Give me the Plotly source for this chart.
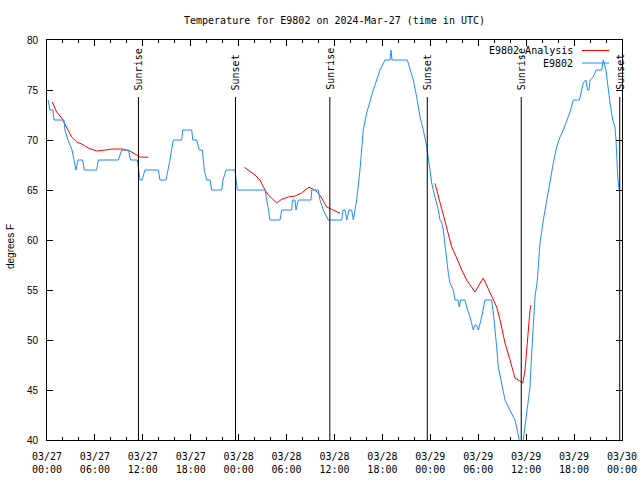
import pandas as pd
import plotly.graph_objects as go

# ---- data ----
base = pd.Timestamp("2024-03-27 00:00")

obs_hours = [0.13, 0.38, 0.75, 0.88, 2.13, 2.25, 2.63, 3.13, 3.38, 3.63, 3.88, 4.47, 4.67, 6.22, 6.42,
             8.93, 9.35, 10.18, 10.48, 11.31, 11.48, 11.65, 11.9, 12.27, 13.94, 14.15, 14.9, 15.19,
             15.4, 15.59, 15.82, 16.87, 17.0, 18.12, 18.25, 18.75, 19.07, 19.45, 19.7, 20.0, 20.41,
             20.62, 21.88, 22.04, 22.41, 23.54, 23.67, 23.83, 27.3, 27.55, 27.74, 27.92, 29.18, 29.39,
             30.64, 30.74, 31.05, 31.18, 31.47, 33.06, 33.15, 33.97, 34.18, 34.6, 35.22, 36.9, 37.06,
             37.32, 37.53, 37.82, 38.15, 38.36, 38.78, 39.19, 39.6, 40.03, 40.45, 40.86, 41.28, 41.7,
             42.32, 42.95, 43.07, 43.2, 45.12, 45.45, 45.87, 46.29, 46.71, 47.12, 47.55, 47.96, 48.17,
             48.58, 49.0, 49.21, 49.42, 49.62, 49.84, 50.05, 50.25, 50.46, 50.88, 51.09, 51.46, 51.63,
             51.78, 52.34, 52.55, 52.97, 53.38, 53.59, 53.78, 54.01, 54.43, 54.84, 55.68, 55.89, 56.1,
             56.31, 56.51, 56.94, 57.35, 57.76, 58.19, 58.6, 58.89, 59.14, 59.35, 59.64, 60.07, 60.48,
             60.69, 60.9, 61.11, 61.4, 61.73, 62.15, 62.57, 62.98, 63.4, 63.82, 64.24, 64.65, 65.08,
             65.49, 65.9, 66.66, 66.95, 67.15, 67.49, 67.68, 67.87, 67.99, 68.41, 68.75, 69.46, 69.66,
             69.99, 70.29, 70.5, 70.84, 71.12, 71.25, 71.34, 71.46, 71.66]
obs_temps = [74, 73, 73, 72, 72, 71, 70, 69, 68, 67, 68, 68, 67, 67, 68,
             68, 69, 69, 68, 68, 67, 66, 66, 67, 67, 66, 66, 67,
             68, 69, 70, 70, 71, 71, 70, 70, 69, 69, 67, 66, 66,
             65, 65, 66, 67, 67, 66, 65, 65, 64, 63, 62, 62, 63,
             63, 64, 64, 63, 64, 64, 65, 65, 64, 63, 62, 62, 63,
             63, 62, 63, 63, 62, 64, 67, 71, 72.7, 74, 75, 76, 77,
             78, 78, 79, 78, 78, 77, 76, 74.3, 72.3, 71, 69.3, 67, 65.7,
             64.3, 63, 62, 61.8, 61, 59.5, 57.7, 56.7, 55.7, 55, 54, 54, 53.3,
             54, 54, 53.3, 52.3, 51, 51.5, 51.5, 51, 52.3, 54, 54, 52.7, 51.3,
             49.3, 47.3, 45.7, 44, 43.3, 42.7, 42, 41, 40, 39, 40, 42.7, 45.3,
             48.7, 52, 54.3, 56, 59.7, 62, 64, 65.7, 67.7, 69.3, 70.3, 71, 72,
             72.8, 74, 74, 75, 75.7, 76, 75, 75, 76, 76.3, 77, 77, 78,
             77, 75, 73.7, 72, 71.3, 70, 68.3, 66.3, 65]

ana_hours = [0.66, 1.21, 1.84, 2.47, 3.09, 3.72, 4.35, 5.17, 6.22, 7.26, 8.3, 9.35, 10.39, 11.23, 11.65, 12.68,
             None,
             24.71, 25.42, 26.05, 26.67, 27.09, 27.71, 28.34, 28.76, 29.39, 30.22, 31.05, 31.89, 32.31,
             32.81, 33.35, 33.85, 34.4, 35.02, 35.65, 36.28, 36.69,
             None,
             48.58, 49.21, 49.84, 50.68, 51.31, 51.93, 52.55, 53.59, 54.63, 55.47, 56.31, 56.73, 57.35,
             57.98, 58.6, 59.02, 59.57, 59.86, 60.07, 60.27, 60.48, 60.61]
ana_temps = [73.8, 72.8, 72.2, 71.2, 70.3, 69.8, 69.6, 69.2, 68.9, 69.0, 69.1, 69.1, 68.9, 68.5, 68.3, 68.27,
             None,
             67.27, 66.9, 66.5, 66.0, 65.3, 64.5, 64.0, 63.7, 64.07, 64.3, 64.4, 64.7, 65.0,
             65.27, 65.07, 64.8, 64.2, 63.3, 63.07, 62.8, 62.67,
             None,
             65.67, 63.7, 61.7, 59.3, 58.2, 57.0, 56.0, 54.8, 56.2, 54.7, 53.3, 52.0, 49.7,
             48.0, 46.2, 46.0, 45.7, 47.0, 49.3, 51.0, 53.0, 53.5]

sun_times = ["2024-03-27 11:27", "2024-03-27 23:36", "2024-03-28 11:25",
             "2024-03-28 23:37", "2024-03-29 11:23", "2024-03-29 23:43"]
sun_labels = ["Sunrise", "Sunset", "Sunrise", "Sunset", "Sunrise", "Sunset"]

title_text = "Temperature for E9802 on 2024-Mar-27 (time in UTC)"
ana_name = "E9802_Analysis"
obs_name = "E9802"

# ---- build ----
def to_time(hs):
    return [None if h is None else base + pd.Timedelta(hours=h) for h in hs]

RED = "#ff0000"
BLUE = "#1e8cff"
MONO = "DejaVu Sans Mono"
SANS = "Liberation Sans"

FIG_W, FIG_H = 640, 480

fig = go.Figure()
fig.add_trace(go.Scatter(x=to_time(ana_hours), y=ana_temps, mode="lines", name=ana_name,
                         line=dict(color=RED, width=1), connectgaps=False))
fig.add_trace(go.Scatter(x=to_time(obs_hours), y=obs_temps, mode="lines", name=obs_name,
                         line=dict(color=BLUE, width=1)))

shapes = []
annotations = []
for t, lab in zip(sun_times, sun_labels):
    shapes.append(dict(type="line", xref="x", yref="paper", x0=t, x1=t, y0=0, y1=0.8575,
                       line=dict(color="black", width=1)))
    annotations.append(dict(x=t, xref="x", y=0.87, yref="paper", text=lab, textangle=-90,
                            showarrow=False, xanchor="center", yanchor="bottom",
                            font=dict(family=MONO, size=10, color="black")))

# legend (gnuplot style: text then sample line); pixel helpers
W = 575.0
def px(xp):
    return (xp - 47) / W
def py(yp):
    return (440 - yp) / 400.0

for name, col, yp in [(ana_name, RED, 50.5), (obs_name, BLUE, 63)]:
    annotations.append(dict(x=px(575), xref="paper", y=py(yp), yref="paper", text=name,
                            showarrow=False, xanchor="right", yanchor="middle",
                            font=dict(family=MONO, size=10, color="black")))
    shapes.append(dict(type="line", xref="paper", yref="paper", x0=px(582), x1=px(609),
                       y0=py(yp), y1=py(yp), line=dict(color=col, width=1)))

annotations.append(dict(x=px(10), xref="paper", y=py(247), yref="paper", text="degrees F",
                        textangle=-90, showarrow=False, xanchor="center", yanchor="middle",
                        font=dict(family=SANS, size=10, color="black")))

fig.update_layout(
    width=FIG_W, height=FIG_H,
    margin=dict(l=47, r=18, t=40, b=40, pad=0, autoexpand=False),
    paper_bgcolor="white", plot_bgcolor="white",
    showlegend=False,
    title=dict(text=title_text, x=(334.5 / FIG_W), xanchor="center", y=1 - 20 / FIG_H, yanchor="middle",
               font=dict(family=MONO, size=10, color="black")),
    shapes=shapes, annotations=annotations,
)
fig.update_xaxes(
    type="date", range=["2024-03-27 00:00", "2024-03-30 00:00"], automargin=False,
    tick0="2024-03-27 00:00", dtick=6 * 3600 * 1000, tickformat="%m/%d<br>%H:%M",
    ticks="inside", ticklen=6, tickcolor="black", mirror="allticks",
    showline=True, linecolor="black", linewidth=1, showgrid=False, zeroline=False,
    tickfont=dict(family=MONO, size=10, color="black"), ticklabelstandoff=7,
    minor=dict(dtick=2 * 3600 * 1000, ticks="inside", ticklen=3, tickcolor="black", showgrid=False),
)
fig.update_yaxes(
    range=[40, 80], tick0=40, dtick=5, automargin=False,
    ticks="inside", ticklen=6, tickcolor="black", mirror="allticks",
    showline=True, linecolor="black", linewidth=1, showgrid=False, zeroline=False,
    tickfont=dict(family=SANS, size=10, color="black"), ticklabelstandoff=6,
)

fig.write_html("out.html",
               config={"displayModeBar": False, "staticPlot": True},
               post_script="document.body.style.margin='0';document.body.style.overflow='hidden';")
